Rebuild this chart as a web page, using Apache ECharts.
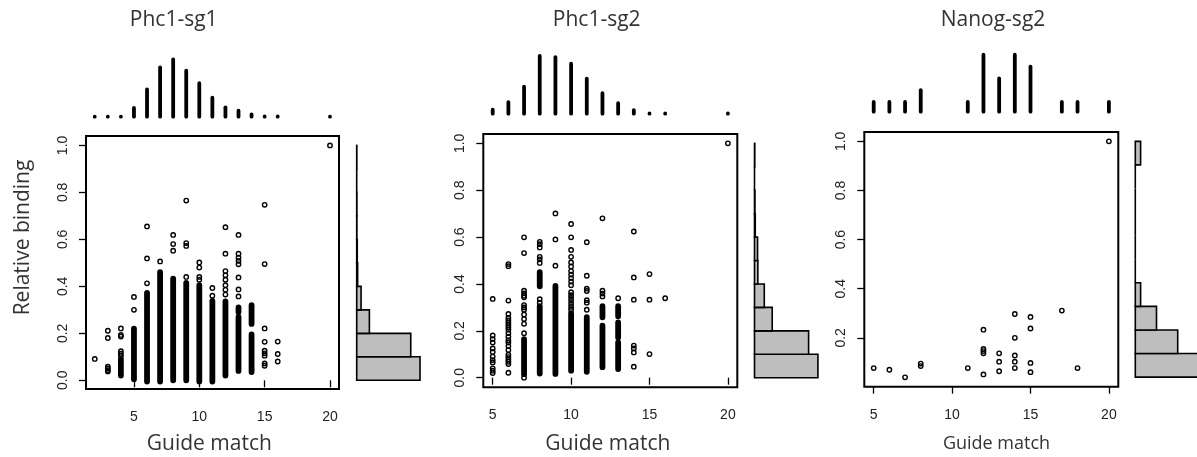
<!DOCTYPE html>
<html><head><meta charset="utf-8">
<script src="https://cdn.jsdelivr.net/npm/echarts@6/dist/echarts.min.js"></script>
<style>html,body{margin:0;padding:0;background:#fff}#c{width:1197px;height:457px}</style>
</head><body><div id="c"></div>
<script>
// ---------------- DATA ----------------
const titles = ['Phc1-sg1', 'Phc1-sg2', 'Nanog-sg2'];
const xLabel = 'Guide match';
const yLabel = 'Relative binding';
const xTicks = [5, 10, 15, 20];
const yTicksA = [0, 0.2, 0.4, 0.6, 0.8, 1.0];
const yTicksB = [0.2, 0.4, 0.6, 0.8, 1.0];

// Panel 1 (Phc1-sg1): individual points [guide match, relative binding]
const p1Points = [
  [2,0.091],
  [3,0.211],[3,0.18],[3,0.058],[3,0.05],[3,0.043],[3,0.038],
  [4,0.221],[4,0.193],[4,0.186],[4,0.124],[4,0.113],[4,0.103],
  [5,0.355],[5,0.30],
  [6,0.655],[6,0.519],[6,0.413],
  [7,0.506],
  [8,0.619],[8,0.58],[8,0.552],
  [9,0.765],[9,0.584],[9,0.572],[9,0.44],
  [10,0.502],[10,0.48],[10,0.44],[10,0.428],
  [11,0.393],[11,0.36],
  [12,0.652],[12,0.539],[12,0.465],[12,0.447],[12,0.428],[12,0.405],[12,0.385],[12,0.365],
  [13,0.619],[13,0.539],[13,0.522],[13,0.508],[13,0.494],[13,0.438],[13,0.387],[13,0.357],
  [15,0.747],[15,0.495],[15,0.221],[15,0.164],[15,0.126],[15,0.115],[15,0.105],[15,0.072],[15,0.062],
  [16,0.165],[16,0.112],[16,0.08],
  [20,1.0]
];
// Panel 1: densely overlapping runs of points [guide match, low, high]
const p1Dense = [
  [4,0.02,0.09],[5,0.005,0.22],[6,-0.005,0.372],[7,-0.005,0.46],[8,0,0.433],
  [9,0,0.415],[10,-0.005,0.405],[11,-0.005,0.338],[12,0.02,0.336],
  [13,0.29,0.31],[13,0.04,0.27],[14,0.24,0.32],[14,0.035,0.195]
];
const p1TopX = [2,3,4,5,6,7,8,9,10,11,12,13,14,15,16,20];
const p1TopFreq = [0,0,0,3.35,10.55,19.0,22.1,17.7,12.9,7.3,3.6,2.3,0.9,0.1,0.1,0]; // % of guides
const p1BinEdges = [0,0.1,0.2,0.3,0.4,0.5,0.6,0.7,0.8,0.9,1.0];
const p1BinFreq = [46.4,39.6,9.3,3.2,0.7,0.4,0.15,0.15,0,0.1]; // %

// Panel 2 (Phc1-sg2)
const p2Points = [
  [5,0.336],[5,0.18],[5,0.165],[5,0.15],[5,0.125],[5,0.11],[5,0.09],[5,0.075],[5,0.065],[5,0.04],[5,0.03],[5,0.02],
  [6,0.485],[6,0.476],[6,0.329],[6,0.272],[6,0.255],[6,0.245],[6,0.235],[6,0.225],[6,0.215],[6,0.205],[6,0.19],
  [6,0.175],[6,0.16],[6,0.15],[6,0.135],[6,0.118],[6,0.098],[6,0.088],[6,0.078],[6,0.068],[6,0.058],[6,0.021],
  [7,0.599],[7,0.532],[7,0.371],[7,0.36],[7,0.35],[7,0.343],[7,0.31],[7,0.30],[7,0.29],[7,0.27],[7,0.25],[7,0.23],[7,0.19],[7,0.0],
  [8,0.58],[8,0.57],[8,0.556],[8,0.516],[8,0.505],[8,0.49],[8,0.335],[8,0.32],
  [9,0.701],[9,0.59],[9,0.478],
  [10,0.656],[10,0.599],[10,0.545],[10,0.516],[10,0.492],[10,0.475],[10,0.455],[10,0.44],[10,0.425],[10,0.41],[10,0.395],
  [10,0.365],[10,0.352],[10,0.34],[10,0.328],[10,0.315],[10,0.302],[10,0.29],
  [11,0.578],[11,0.435],[11,0.38],[11,0.37],[11,0.331],[11,0.32],[11,0.29],
  [12,0.68],[12,0.371],[12,0.359],[12,0.347],
  [13,0.339],
  [14,0.624],[14,0.428],[14,0.333],[14,0.137],[14,0.125],[14,0.108],[14,0.047],
  [15,0.442],[15,0.333],[15,0.101],
  [16,0.339],
  [20,1.0]
];
const p2Dense = [
  [7,0.015,0.165],[8,0.39,0.45],[8,0.018,0.305],[9,0.016,0.392],[10,0.03,0.275],[11,0.025,0.258],
  [12,0.258,0.305],[12,0.045,0.222],[13,0.262,0.305],[13,0.172,0.236],[13,0.037,0.151]
];
const p2TopX = [5,6,7,8,9,10,11,12,13,14,15,16,20];
const p2TopFreq = [1.45,4.2,9.8,20.9,20.5,18.1,12.7,7.4,3.8,1.3,0.1,0.1,0.1];
const p2BinEdges = [0,0.1,0.2,0.3,0.4,0.5,0.6,0.7,0.8,0.9,1.0];
const p2BinFreq = [41.5,35.4,11.6,6.4,2.2,2.0,0.5,0.3,0,0.2];

// Panel 3 (Nanog-sg2)
const p3Points = [
  [5,0.077],[6,0.070],[7,0.039],[8,0.095],[8,0.085],[11,0.077],
  [12,0.233],[12,0.155],[12,0.146],[12,0.137],[12,0.051],
  [13,0.137],[13,0.103],[13,0.064],
  [14,0.297],[14,0.2],[14,0.128],[14,0.103],[14,0.077],
  [15,0.285],[15,0.238],[15,0.098],[15,0.060],
  [17,0.311],[18,0.077],[20,1.0]
];
const p3Dense = [];
const p3TopX = [5,6,7,8,11,12,13,14,15,17,18,20];
const p3TopCount = [1,1,1,2,1,5,3,5,4,1,1,1];
const p3BinEdges = [0.04,0.136,0.232,0.328,0.424,0.52,0.616,0.712,0.808,0.904,1.0];
const p3BinCount = [12,8,4,1,0,0,0,0,0,1];

// ---------------- LAYOUT ----------------
const panels = [
  { points:p1Points, dense:p1Dense, topX:p1TopX, topV:p1TopFreq, edges:p1BinEdges, bins:p1BinFreq, yTicks:yTicksA,
    main:{left:86, top:136, width:253, height:253}, xr:[1.33,20.69], yr:[-0.037,1.04],
    topGrid:{top:59.3, height:57.4}, topMin:0, topMax:22.1,
    histGrid:{left:356.7, width:70}, histMax:51.3,
    title:[173.7,20], xl:[209.3,444], xlSize:21 },
  { points:p2Points, dense:p2Dense, topX:p2TopX, topV:p2TopFreq, edges:p2BinEdges, bins:p2BinFreq, yTicks:yTicksA,
    main:{left:483.3, top:134, width:254, height:253.3}, xr:[4.4,20.6], yr:[-0.041,1.04],
    topGrid:{top:56, height:57.7}, topMin:0, topMax:20.9,
    histGrid:{left:754.5, width:70}, histMax:45.8,
    title:[596.7,20], xl:[607.8,444], xlSize:21 },
  { points:p3Points, dense:p3Dense, topX:p3TopX, topV:p3TopCount, edges:p3BinEdges, bins:p3BinCount, yTicks:yTicksB,
    main:{left:864.3, top:132, width:254, height:254.7}, xr:[4.4,20.6], yr:[0.001,1.038],
    topGrid:{top:54.7, height:57}, topMin:0.18, topMax:5,
    histGrid:{left:1135.3, width:61.7}, histMax:11.64,
    title:[993,20], xl:[996.5,444], xlSize:18 }
];

const grids = [], xAxes = [], yAxes = [], series = [];
const tickFont = 'Liberation Sans';

function denseRender(params, api) {
  const x = api.value(0);
  const a = api.coord([x, api.value(1)]), b = api.coord([x, api.value(2)]);
  const w = 5.8;
  return { type:'rect', shape:{ x:a[0]-w/2, y:b[1]-w/2, width:w, height:a[1]-b[1]+w, r:w/2 }, style:{ fill:'#000' } };
}
function topRender(params, api) {
  const cs = params.coordSys;
  const baseY = cs.y + cs.height;
  const p = api.coord([api.value(0), api.value(1)]);
  const t = Math.min(p[1], baseY);
  const w = 3.8;
  return { type:'rect', shape:{ x:p[0]-w/2, y:t-w/2, width:w, height:baseY-t+w, r:w/2 }, style:{ fill:'#000' } };
}
function histRender(params, api) {
  const a = api.coord([0, api.value(0)]);
  const b = api.coord([api.value(2), api.value(1)]);
  return { type:'rect', shape:{ x:a[0], y:b[1], width:b[0]-a[0], height:a[1]-b[1] },
    style:{ fill:'#bebebe', stroke:'#000', lineWidth:1.6 } };
}

const graphics = [];
panels.forEach((p, i) => {
  const gMain = grids.length;
  grids.push({ left:p.main.left, top:p.main.top, width:p.main.width, height:p.main.height,
    show:true, borderColor:'#000', borderWidth:2, backgroundColor:'rgba(0,0,0,0)' });
  xAxes.push({ type:'value', gridIndex:gMain, min:p.xr[0], max:p.xr[1],
    axisLine:{show:false}, splitLine:{show:false},
    axisTick:{show:true, inside:false, length:7, customValues:xTicks, lineStyle:{color:'#000', width:1.3}},
    axisLabel:{customValues:xTicks, margin:21, fontSize:14, color:'#222', fontFamily:tickFont} });
  yAxes.push({ type:'value', gridIndex:gMain, min:p.yr[0], max:p.yr[1],
    axisLine:{show:false}, splitLine:{show:false},
    axisTick:{show:true, inside:false, length:7, customValues:p.yTicks, lineStyle:{color:'#000', width:1.3}},
    axisLabel:{customValues:p.yTicks, rotate:90, margin:16, fontSize:14, color:'#222', fontFamily:tickFont,
      formatter:v => v.toFixed(1)} });
  series.push({ type:'custom', xAxisIndex:gMain, yAxisIndex:gMain, data:p.dense, renderItem:denseRender,
    encode:{x:0, y:[1,2]}, silent:true, animation:false, z:2 });
  series.push({ type:'scatter', xAxisIndex:gMain, yAxisIndex:gMain, data:p.points, symbol:'circle', symbolSize:4.4,
    itemStyle:{color:'rgba(0,0,0,0)', borderColor:'#000', borderWidth:1.4, opacity:1}, silent:true, animation:false, z:3 });

  const gTop = grids.length;
  grids.push({ left:p.main.left, width:p.main.width, top:p.topGrid.top, height:p.topGrid.height });
  xAxes.push({ type:'value', gridIndex:gTop, min:p.xr[0], max:p.xr[1], show:false });
  yAxes.push({ type:'value', gridIndex:gTop, min:p.topMin, max:p.topMax, show:false });
  series.push({ type:'custom', xAxisIndex:gTop, yAxisIndex:gTop, data:p.topX.map((x, k) => [x, p.topV[k]]),
    renderItem:topRender, encode:{x:0, y:1}, silent:true, animation:false, clip:false });

  const gHist = grids.length;
  grids.push({ left:p.histGrid.left, width:p.histGrid.width, top:p.main.top, height:p.main.height });
  xAxes.push({ type:'value', gridIndex:gHist, min:0, max:p.histMax, show:false });
  yAxes.push({ type:'value', gridIndex:gHist, min:p.yr[0], max:p.yr[1], show:false });
  series.push({ type:'custom', xAxisIndex:gHist, yAxisIndex:gHist,
    data:p.bins.map((v, k) => [p.edges[k], p.edges[k+1], v]),
    renderItem:histRender, encode:{x:2, y:[0,1]}, silent:true, animation:false, clip:false });

  graphics.push({ type:'text', x:p.title[0], y:p.title[1], silent:true,
    style:{ text:titles[i], fontSize:21, fontFamily:'Open Sans', fill:'#333', align:'center', verticalAlign:'middle' } });
  graphics.push({ type:'text', x:p.xl[0], y:p.xl[1], silent:true,
    style:{ text:xLabel, fontSize:p.xlSize, fontFamily:'Open Sans', fill:'#333', align:'center', verticalAlign:'middle' } });
});
graphics.push({ type:'text', x:23.3, y:237.5, rotation:Math.PI/2, silent:true,
  style:{ text:yLabel, fontSize:21, fontFamily:'Open Sans', fill:'#333', align:'center', verticalAlign:'middle' } });

const chart = echarts.init(document.getElementById('c'), null, { renderer:'canvas' });
chart.setOption({ animation:false, grid:grids, xAxis:xAxes, yAxis:yAxes, series:series, graphic:graphics });
</script></body></html>
